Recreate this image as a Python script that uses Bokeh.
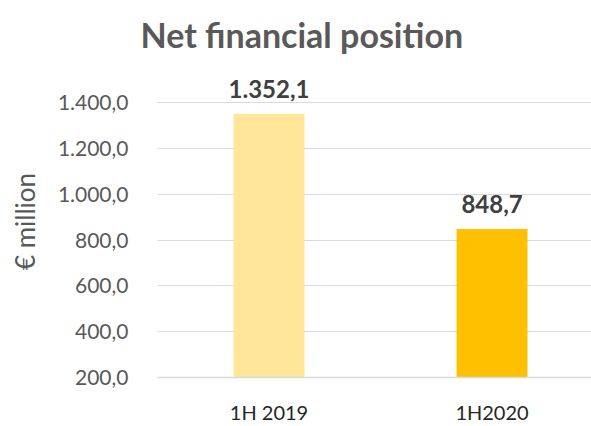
from bokeh.plotting import figure
from bokeh.models import ColumnDataSource, FixedTicker, Range1d, Title, LabelSet
from bokeh.embed import file_html
from bokeh.resources import INLINE
from bokeh.core.properties import value

# ---- data ----
categories = ["1H 2019", "1H2020"]
values = [1352.1, 848.7]
value_labels = ["1.352,1", "848,7"]
bar_colors = ["#FFE699", "#FFC000"]
y_ticks = [200, 400, 600, 800, 1000, 1200, 1400]
y_tick_labels = ["200,0", "400,0", "600,0", "800,0", "1.000,0", "1.200,0", "1.400,0"]
title_text = "Net financial position"
y_title = "€ million"

FONT = "Lato"
BASE = 200
x_pos = [i + 0.5 for i in range(len(categories))]

src = ColumnDataSource(dict(x=x_pos, top=values, bottom=[BASE] * len(values),
                            color=bar_colors, lab=value_labels, cat=categories))

p = figure(width=591, height=426, output_backend="svg", toolbar_location=None,
           x_range=Range1d(0, 1.946), y_range=Range1d(BASE, 1562.9),
           min_border_left=157, min_border_right=0, min_border_top=65,
           min_border_bottom=43, outline_line_color=None)

p.title = Title(text=title_text, align="left", offset=-17, standoff=22,
                text_font=FONT, text_font_style="bold", text_font_size="34px",
                text_color="#595959")

p.vbar(x="x", top="top", bottom="bottom", width=0.318, color="color",
       line_color=None, source=src)

labels = LabelSet(x="x", y="top", text="lab", source=src, text_align="center",
                  text_baseline="bottom", y_offset=16, text_font=value(FONT),
                  text_font_style="bold", text_font_size="24px", text_color="#404040")
p.add_layout(labels)

# axes
p.xaxis.ticker = FixedTicker(ticks=x_pos)
p.xaxis.major_label_overrides = {x: c for x, c in zip(x_pos, categories)}
p.xaxis.major_tick_line_color = None
p.xaxis.minor_tick_line_color = None
p.xaxis.axis_line_color = "#D9D9D9"
p.xaxis.axis_line_width = 1.5
p.xaxis.major_label_text_font = FONT
p.xaxis.major_label_text_font_size = "20px"
p.xaxis.major_label_text_color = "#262626"
p.xaxis.major_label_standoff = 16

p.yaxis.ticker = FixedTicker(ticks=y_ticks)
p.yaxis.major_label_overrides = {v: s for v, s in zip(y_ticks, y_tick_labels)}
p.yaxis.major_tick_line_color = None
p.yaxis.minor_tick_line_color = None
p.yaxis.axis_line_color = None
p.yaxis.major_label_text_font = FONT
p.yaxis.major_label_text_font_size = "21px"
p.yaxis.major_label_text_color = "#595959"
p.yaxis.major_label_standoff = 23
p.yaxis.axis_label = y_title
p.yaxis.axis_label_text_font = FONT
p.yaxis.axis_label_text_font_size = "26px"
p.yaxis.axis_label_text_font_style = "normal"
p.yaxis.axis_label_text_color = "#595959"
p.yaxis.axis_label_standoff = 14

p.xgrid.grid_line_color = None
p.ygrid.grid_line_color = "#D9D9D9"
p.ygrid.grid_line_width = 1
p.background_fill_color = "white"
p.border_fill_color = "white"

open("out.html", "w").write(file_html(p, INLINE))
